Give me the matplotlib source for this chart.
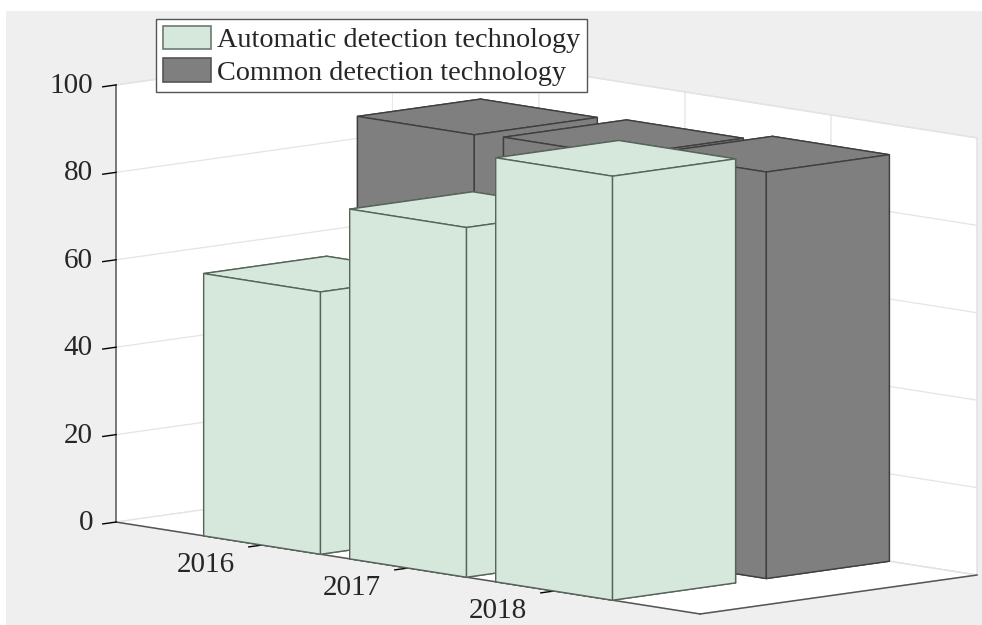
import matplotlib
matplotlib.use('Agg')
import matplotlib.pyplot as plt
from matplotlib.patches import Patch, Rectangle
from mpl_toolkits.mplot3d import proj3d

plt.rcParams['font.family'] = ['Liberation Serif', 'DejaVu Serif']
plt.rcParams['grid.color'] = '#e4e4e4'
plt.rcParams['grid.linewidth'] = 0.9

W, H = 982, 625

years = ['2016', '2017', '2018']
x_pos = [1, 2, 3]
auto_vals = [60, 80, 97]
common_vals = [91, 91.5, 93]
z_ticks = [0, 20, 40, 60, 80, 100]

GREEN = '#d6e8db'
GREY = '#7f7f7f'
BG = '#efefef'
TEXT = '#262626'

fig = plt.figure(figsize=(W / 100, H / 100), dpi=100, facecolor='white')
fig.patches.append(Rectangle((6 / W, 0), 976 / W, 614 / H, transform=fig.transFigure,
                             facecolor=BG, edgecolor='none', figure=fig, zorder=-1))

# square axes sized so that one box unit is one pixel
side = 1001
ax = fig.add_axes([32.5 / W, -219 / H, side / W, side / H], projection='3d',
                  proj_type='ortho', computed_zorder=False)
ax.set_facecolor('none')
ax.view_init(elev=8.56, azim=-43.4)
ax.set_box_aspect((850, 381, 442), zoom=1.0)

# back row first so the front row overlaps it
for i, (x, v) in enumerate(zip(x_pos, common_vals)):
    ax.bar3d(x - 0.4, 2 - 0.4, 0, 0.8, 0.8, v, color=GREY, edgecolor='#3f3f3f',
             linewidth=1.0, shade=False, zorder=2 + i)
for i, (x, v) in enumerate(zip(x_pos, auto_vals)):
    ax.bar3d(x - 0.4, 1 - 0.4, 0, 0.8, 0.8, v, color=GREEN, edgecolor='#56645a',
             linewidth=1.0, shade=False, zorder=6 + i)

ax.set_xlim(0, 4, view_margin=0)
ax.set_ylim(0.6, 2.4, view_margin=0)
ax.set_zlim(0, 100, view_margin=0)

ax.set_xticks(x_pos)
ax.set_yticks([])
ax.set_zticks(z_ticks)
ax.zaxis.set_ticks_position('lower')
ax.tick_params(axis='x', labelbottom=False)
ax.tick_params(axis='z', labelleft=False)
ax.grid(True)

for axis in (ax.xaxis, ax.yaxis, ax.zaxis):
    axis.pane.set_facecolor('white')
    axis.pane.set_alpha(1)
    axis.pane.set_edgecolor('#e0e0e0')
    axis.line.set_color('#555555')
    axis.line.set_linewidth(1.1)
    axis._axinfo['tick']['inward_factor'] = 0.6
    axis._axinfo['tick']['outward_factor'] = 0.0
    axis._axinfo['tick']['linewidth'] = {True: 1.0, False: 0.5}
    axis._axinfo['tick']['color'] = '#555555'


def label_at(x, y, z, s, ha):
    # tick labels sit further out than the axis padding allows, so project them by hand
    px, py, _ = proj3d.proj_transform(x, y, z, ax.get_proj())
    ax.text2D(px, py, s, transform=ax.transData, fontsize=21, color=TEXT,
              ha=ha, va='center', zorder=20)


for x, year in zip(x_pos, years):
    label_at(x, 0.236, -2.8, year, 'center')
for z in z_ticks:
    label_at(0, 0.45, z + 0.5, str(z), 'right')

handles = [Patch(facecolor=GREEN, edgecolor='#6d7a70', linewidth=1.2),
           Patch(facecolor=GREY, edgecolor='#555555', linewidth=1.2)]
fig.legend(handles, ['Automatic detection technology', 'Common detection technology'],
           loc='upper left', bbox_to_anchor=(156 / W, 1 - 19 / H), borderaxespad=0,
           fontsize=20.3, fancybox=False, framealpha=1, edgecolor='#555555',
           handlelength=1.72, handleheight=0.9, handletextpad=0.22, labelspacing=0.18,
           borderpad=0.24, labelcolor=TEXT)

fig.savefig('out.png', dpi=100)
